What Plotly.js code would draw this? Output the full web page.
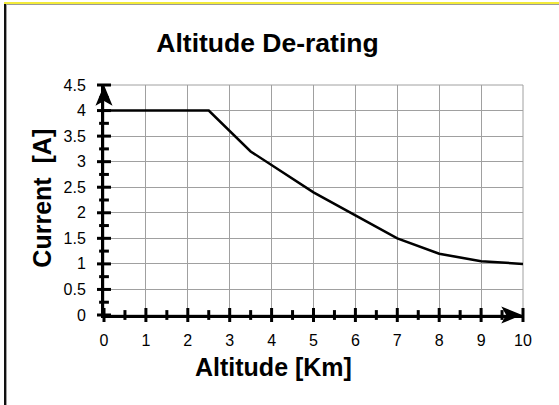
<!DOCTYPE html>
<html>
<head>
<meta charset="utf-8">
<script src="https://cdn.plot.ly/plotly-3.0.1.min.js"></script>
<style>
  html, body { margin: 0; padding: 0; background: #fff; }
  #wrap { position: relative; width: 559px; height: 405px; overflow: hidden; }
  #chart { position: absolute; left: 0; top: 0; width: 559px; height: 405px; }
  #btop { position: absolute; left: 4px; top: 2px; width: 555px; height: 2px; background: #f2ea3a; }
  #btop2 { position: absolute; left: 4px; top: 4px; width: 555px; height: 1px; background: #9a9a9a; }
  #bleft { position: absolute; left: 4px; top: 4px; width: 2px; height: 401px; background: #111; }
  #bleft2 { position: absolute; left: 6px; top: 5px; width: 1px; height: 400px; background: #a0a0a0; }
</style>
</head>
<body>
<div id="wrap">
  <div id="chart"></div>
  <div id="btop"></div><div id="btop2"></div><div id="bleft"></div><div id="bleft2"></div>
</div>
<script>
// Data
var altitude = [0, 2.5, 3.5, 5, 6, 7, 8, 9, 10];
var current  = [4, 4, 3.2, 2.4, 1.95, 1.5, 1.2, 1.05, 1.0];

// Axis ticks
var xTickVals = [0, 1, 2, 3, 4, 5, 6, 7, 8, 9, 10];
var yTickVals = [0, 0.5, 1, 1.5, 2, 2.5, 3, 3.5, 4, 4.5];
var titleText = 'Altitude De-rating';
var xTitleText = 'Altitude [Km]';
var yTitleText = 'Current  [A]';

// minor ticks at midpoints of major ticks
var xMinor = [], yMinor = [];
for (var i = 0; i < xTickVals.length - 1; i++) xMinor.push((xTickVals[i] + xTickVals[i+1]) / 2);
for (var j = 0; j < yTickVals.length - 1; j++) yMinor.push((yTickVals[j] + yTickVals[j+1]) / 2);
var xMin = xTickVals[0], xMax = xTickVals[xTickVals.length - 1];
var yMin = yTickVals[0], yMax = yTickVals[yTickVals.length - 1];

var tickFont = { family: '"Liberation Sans", Arial, sans-serif', size: 16, color: '#000' };
var boldFont = { family: '"Liberation Sans", Arial, sans-serif', size: 25, color: '#000', weight: 'bold' };

function zeros(arr, v) { return arr.map(function () { return v; }); }

var traces = [
  {
    x: altitude, y: current, type: 'scatter', mode: 'lines',
    line: { color: '#000', width: 2.5 }, hoverinfo: 'skip', cliponaxis: false
  },
  // crossing tick marks on the y axis
  {
    x: zeros(yTickVals, xMin), y: yTickVals, type: 'scatter', mode: 'markers', cliponaxis: false,
    marker: { symbol: 'line-ew', size: 10, color: '#000', line: { color: '#000', width: 3 } }, hoverinfo: 'skip'
  },
  {
    x: zeros(yMinor, xMin), y: yMinor, type: 'scatter', mode: 'markers', cliponaxis: false,
    marker: { symbol: 'line-ew', size: 7, color: '#000', line: { color: '#000', width: 3 } }, hoverinfo: 'skip'
  },
  // crossing tick marks on the x axis
  {
    x: xTickVals, y: zeros(xTickVals, yMin), type: 'scatter', mode: 'markers', cliponaxis: false,
    marker: { symbol: 'line-ns', size: 10, color: '#000', line: { color: '#000', width: 3 } }, hoverinfo: 'skip'
  },
  {
    x: xMinor, y: zeros(xMinor, yMin), type: 'scatter', mode: 'markers', cliponaxis: false,
    marker: { symbol: 'line-ns', size: 7, color: '#000', line: { color: '#000', width: 3 } }, hoverinfo: 'skip'
  }
];

var layout = {
  width: 559, height: 405,
  margin: { l: 104, r: 36, t: 85, b: 90 },
  paper_bgcolor: '#fff', plot_bgcolor: '#fff',
  showlegend: false,
  title: {
    text: titleText, font: { family: '"Liberation Sans", Arial, sans-serif', size: 26.5, color: '#000', weight: 'bold' },
    x: 267.5 / 559, xanchor: 'center', y: 1 - 43 / 405, yanchor: 'middle'
  },
  xaxis: {
    range: [xMin, xMax], tickvals: xTickVals, ticks: '', showgrid: true, gridcolor: '#a0a0a0', gridwidth: 1,
    zeroline: false, showline: true, linecolor: '#000', linewidth: 3, tickfont: tickFont,
    ticklabelstandoff: 9, fixedrange: true
  },
  yaxis: {
    range: [yMin, yMax], tickvals: yTickVals, ticks: '', showgrid: true, gridcolor: '#a0a0a0', gridwidth: 1,
    zeroline: false, showline: true, linecolor: '#000', linewidth: 3, tickfont: tickFont,
    ticklabelstandoff: 12, fixedrange: true
  },
  shapes: [
    { type: 'rect', xref: 'paper', yref: 'paper', x0: 0, y0: 0, x1: 1, y1: 1, line: { color: '#a0a0a0', width: 1 }, layer: 'below' },
    // arrowhead at top of y axis (pixel-sized, anchored at the axis end = top-left corner of plot area)
    { type: 'path', xref: 'paper', yref: 'paper', xsizemode: 'pixel', ysizemode: 'pixel', xanchor: 0, yanchor: 1,
      path: 'M0,-2 L-7,-19 L0,-15 L7,-19 Z', fillcolor: '#000', line: { color: '#000', width: 1.5 } },
    // arrowhead at right of x axis (bottom-right corner of plot area)
    { type: 'path', xref: 'paper', yref: 'paper', xsizemode: 'pixel', ysizemode: 'pixel', xanchor: 1, yanchor: 0,
      path: 'M-3,0 L-20,7 L-16,0 L-20,-7 Z', fillcolor: '#000', line: { color: '#000', width: 1.5 } }
  ],
  annotations: [
    { text: xTitleText, xref: 'paper', yref: 'paper', x: (273 - 104) / 419, y: (315 - 367) / 230.3,
      xanchor: 'center', yanchor: 'middle', showarrow: false, font: boldFont },
    { text: yTitleText, xref: 'paper', yref: 'paper', x: (42 - 104) / 419, y: (315 - 198.5) / 230.3,
      xanchor: 'center', yanchor: 'middle', showarrow: false, textangle: -90, font: boldFont }
  ]
};

Plotly.newPlot('chart', traces, layout, { displayModeBar: false, staticPlot: true });
</script>
</body>
</html>
